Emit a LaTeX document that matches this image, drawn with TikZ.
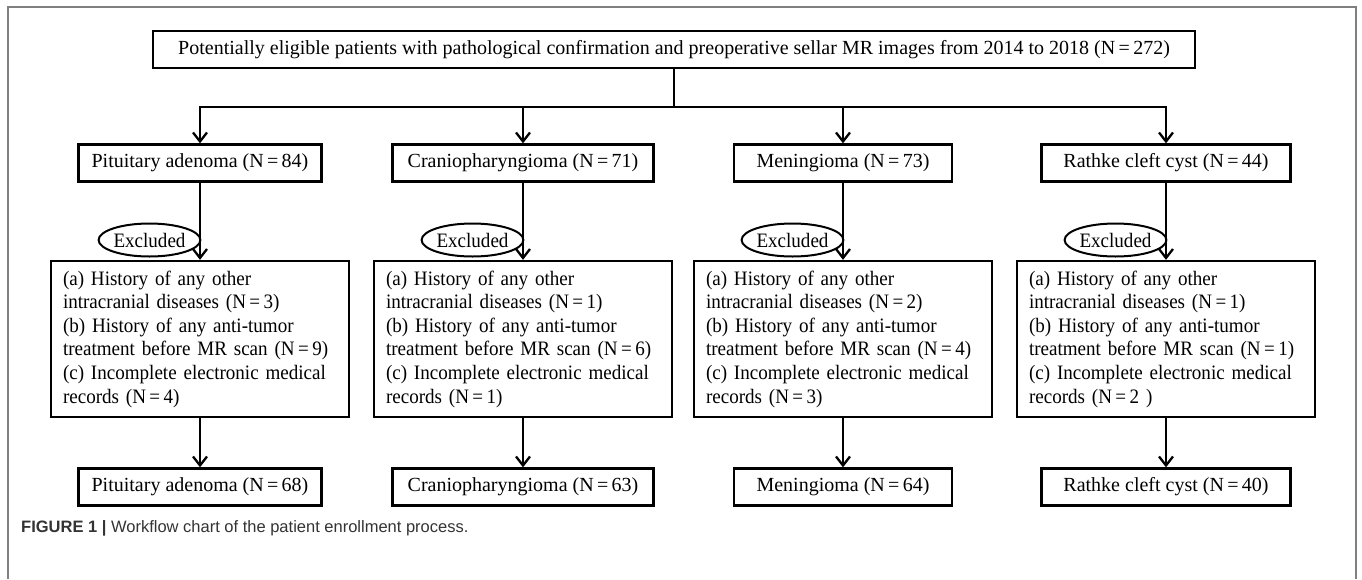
\documentclass[tikz,border=0pt]{standalone}
\usepackage{fontspec}
\setmainfont{Liberation Serif}
\newfontfamily\narrowfont{Liberation Serif}[FakeStretch=0.93]
\newfontfamily\capfont{Liberation Sans}
\usetikzlibrary{arrows.meta,shapes.geometric}

\begin{document}
\begin{tikzpicture}[x=1pt, y=-1pt,
                    box/.style = {draw=black, line width=2.3pt, minimum height=37pt, inner sep=0pt, font=\fontsize{20}{24}\selectfont},
                    excl/.style = {draw=black, line width=2.3pt, minimum width=298pt, minimum height=156pt, text width=274pt, align=left, inner sep=0pt, font=\narrowfont\fontsize{20.5}{23.6}\selectfont},
                    tag/.style = {draw=black, ellipse, line width=2pt, minimum width=101pt, minimum height=33pt, inner sep=0pt, font=\narrowfont\fontsize{20.5}{24}\selectfont},
                    link/.style = {line width=2.3pt, -{Straight Barb[length=9pt, width=14pt, line width=2.3pt]}}
                ]
                    \useasboundingbox (0,0) rectangle (1362,579);
                    \draw[black!50, line width=1.5pt] (8,579) -- (8,7) -- (1356,7) -- (1356,579);

                    \node[box, minimum width=1042pt] (top) at (674,49.5) {Potentially eligible patients with pathological confirmation and preoperative sellar MR images from 2014 to 2018 (N\,=\,272)};
                    \coordinate (split) at (674,107);

                    \node[box, minimum width=243pt] (pa) at (200,163) {Pituitary adenoma (N\,=\,84)};
                    \node[box, minimum width=261pt] (cp) at (523,163) {Craniopharyngioma (N\,=\,71)};
                    \node[box, minimum width=218pt] (me) at (843,163) {Meningioma (N\,=\,73)};
                    \node[box, minimum width=249pt] (rc) at (1166,163) {Rathke cleft cyst (N\,=\,44)};

                    \node[excl] (paX) at (200,339) {(a) History of any other\\intracranial diseases (N\,=\,3)\\(b) History of any anti-tumor\\treatment before MR scan (N\,=\,9)\\(c) Incomplete electronic medical\\records (N\,=\,4)};
                    \node[excl] (cpX) at (523,339) {(a) History of any other\\intracranial diseases (N\,=\,1)\\(b) History of any anti-tumor\\treatment before MR scan (N\,=\,6)\\(c) Incomplete electronic medical\\records (N\,=\,1)};
                    \node[excl] (meX) at (843,339) {(a) History of any other\\intracranial diseases (N\,=\,2)\\(b) History of any anti-tumor\\treatment before MR scan (N\,=\,4)\\(c) Incomplete electronic medical\\records (N\,=\,3)};
                    \node[excl] (rcX) at (1166,339) {(a) History of any other\\intracranial diseases (N\,=\,1)\\(b) History of any anti-tumor\\treatment before MR scan (N\,=\,1)\\(c) Incomplete electronic medical\\records (N\,=\,2 )};

                    \node[tag] (paE) at (149.5,240) {Excluded};
                    \node[tag] (cpE) at (472.5,240) {Excluded};
                    \node[tag] (meE) at (792.5,240) {Excluded};
                    \node[tag] (rcE) at (1115.5,240) {Excluded};

                    \node[box, minimum width=243pt] (paF) at (200,487) {Pituitary adenoma (N\,=\,68)};
                    \node[box, minimum width=261pt] (cpF) at (523,487) {Craniopharyngioma (N\,=\,63)};
                    \node[box, minimum width=218pt] (meF) at (843,487) {Meningioma (N\,=\,64)};
                    \node[box, minimum width=249pt] (rcF) at (1166,487) {Rathke cleft cyst (N\,=\,40)};

                    \draw[line width=2.3pt] (top) -- (split);
                    \draw[link] (split) -| (pa);
                    \draw[link] (split) -| (cp);
                    \draw[link] (split) -| (me);
                    \draw[link] (split) -| (rc);

                    \draw[link] (pa) -- (paX);
                    \draw[link] (cp) -- (cpX);
                    \draw[link] (me) -- (meX);
                    \draw[link] (rc) -- (rcX);

                    \draw[link] (paX) -- (paF);
                    \draw[link] (cpX) -- (cpF);
                    \draw[link] (meX) -- (meF);
                    \draw[link] (rcX) -- (rcF);

                    \node[anchor=west, inner sep=0pt, text=black!80, font=\capfont\fontsize{16.5}{19}\selectfont] (cap) at (21,528) {\textbf{FIGURE 1 |} Workflow chart of the patient enrollment process.};
                \end{tikzpicture}
\end{document}
